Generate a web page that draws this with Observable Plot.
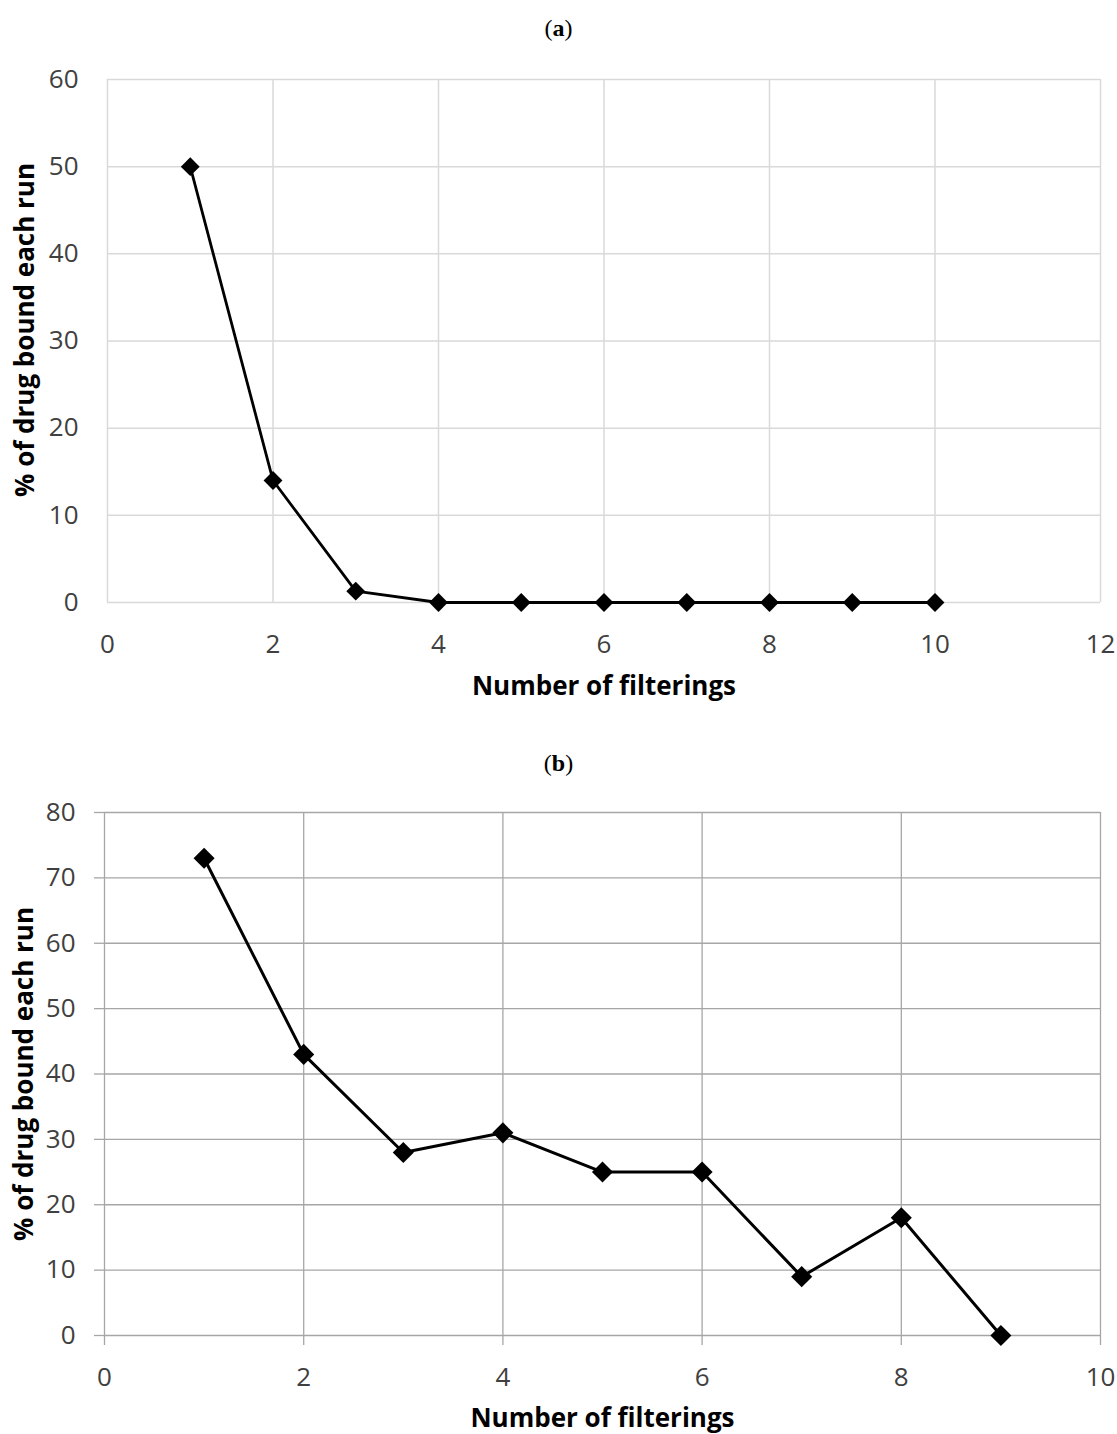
<!DOCTYPE html>
<html><head><meta charset="utf-8">
<script src="https://cdn.jsdelivr.net/npm/d3@7"></script>
<script src="https://cdn.jsdelivr.net/npm/@observablehq/plot@0.6"></script>
<style>
body{margin:0;background:#fff;width:1117px;height:1434px;position:relative;overflow:hidden;}
.title{position:absolute;left:0;width:1117px;text-align:center;font-family:"Liberation Serif",serif;font-size:24px;line-height:28px;color:#000;}
.chart{position:absolute;left:0;}
</style></head><body>
<div class="title" style="top:14px">(<b>a</b>)</div>
<div id="a" class="chart" style="top:50px"></div>
<div class="title" style="top:749px">(<b>b</b>)</div>
<div id="b" class="chart" style="top:780px"></div>
<script>
const filteringsA = [1,2,3,4,5,6,7,8,9,10];
const boundA = [50,14,1.3,0,0,0,0,0,0,0];
const filteringsB = [1,2,3,4,5,6,7,8,9];
const boundB = [73,43,28,31,25,25,9,18,0];
const xTicksA = [0,2,4,6,8,10,12];
const yTicksA = [0,10,20,30,40,50,60];
const xTicksB = [0,2,4,6,8,10];
const yTicksB = [0,10,20,30,40,50,60,70,80];
const xLabel = "Number of filterings";
const yLabel = "% of drug bound each run";

const dataA = filteringsA.map((x,i)=>({x, y: boundA[i]}));
const dataB = filteringsB.map((x,i)=>({x, y: boundB[i]}));
const baseStyle = {fontFamily:"'Open Sans', sans-serif", fontSize:"26px", color:"#404040", background:"#fff", overflow:"visible"};

const chartA = Plot.plot({
  width:1117, height:660, marginTop:29, marginBottom:108, marginLeft:107, marginRight:17,
  style: baseStyle,
  x:{domain:[0,12]},
  y:{domain:[0,60]},
  marks:[
    Plot.gridX(xTicksA, {stroke:"#d9d9d9", strokeOpacity:1, strokeWidth:1.5}),
    Plot.gridY(yTicksA, {stroke:"#d9d9d9", strokeOpacity:1, strokeWidth:1.5}),
    Plot.axisX(xTicksA, {tickSize:0, tickPadding:32, label:null, fill:"#404040"}),
    Plot.axisY(yTicksA, {tickSize:0, tickPadding:29, label:null, fill:"#404040"}),
    Plot.line(dataA, {x:"x", y:"y", stroke:"#000", strokeWidth:2.8}),
    Plot.dot(dataA, {x:"x", y:"y", symbol:"diamond2", r:8.5, fill:"#000"}),
    Plot.text([xLabel], {text:d=>d, frameAnchor:"bottom", textAnchor:"middle", lineAnchor:"middle", dy:84, fontWeight:"bold", fontSize:26, fill:"#000"}),
    Plot.text([yLabel], {text:d=>d, frameAnchor:"left", textAnchor:"middle", lineAnchor:"middle", dx:-82, dy:-11, rotate:-90, fontWeight:"bold", fontSize:26, fill:"#000"})
  ]
});
document.getElementById("a").append(chartA);

const chartB = Plot.plot({
  width:1117, height:654, marginTop:32, marginBottom:99, marginLeft:104, marginRight:17,
  style: baseStyle,
  x:{domain:[0,10]},
  y:{domain:[0,80]},
  marks:[
    Plot.gridX(xTicksB, {stroke:"#a6a6a6", strokeOpacity:1, strokeWidth:1.3}),
    Plot.gridY(yTicksB, {stroke:"#a6a6a6", strokeOpacity:1, strokeWidth:1.3}),
    Plot.axisX(xTicksB, {tickSize:10, tickPadding:22, label:null, stroke:"#a6a6a6", strokeWidth:1.3, fill:"#404040"}),
    Plot.axisY(yTicksB, {tickSize:10, tickPadding:19, label:null, stroke:"#a6a6a6", strokeWidth:1.3, fill:"#404040"}),
    Plot.line(dataB, {x:"x", y:"y", stroke:"#000", strokeWidth:3}),
    Plot.dot(dataB, {x:"x", y:"y", symbol:"diamond2", r:9.5, fill:"#000"}),
    Plot.text([xLabel], {text:d=>d, frameAnchor:"bottom", textAnchor:"middle", lineAnchor:"middle", dy:83, fontWeight:"bold", fontSize:26, fill:"#000"}),
    Plot.text([yLabel], {text:d=>d, frameAnchor:"left", textAnchor:"middle", lineAnchor:"middle", dx:-80, rotate:-90, fontWeight:"bold", fontSize:26, fill:"#000"})
  ]
});
document.getElementById("b").append(chartB);
</script>
</body></html>
